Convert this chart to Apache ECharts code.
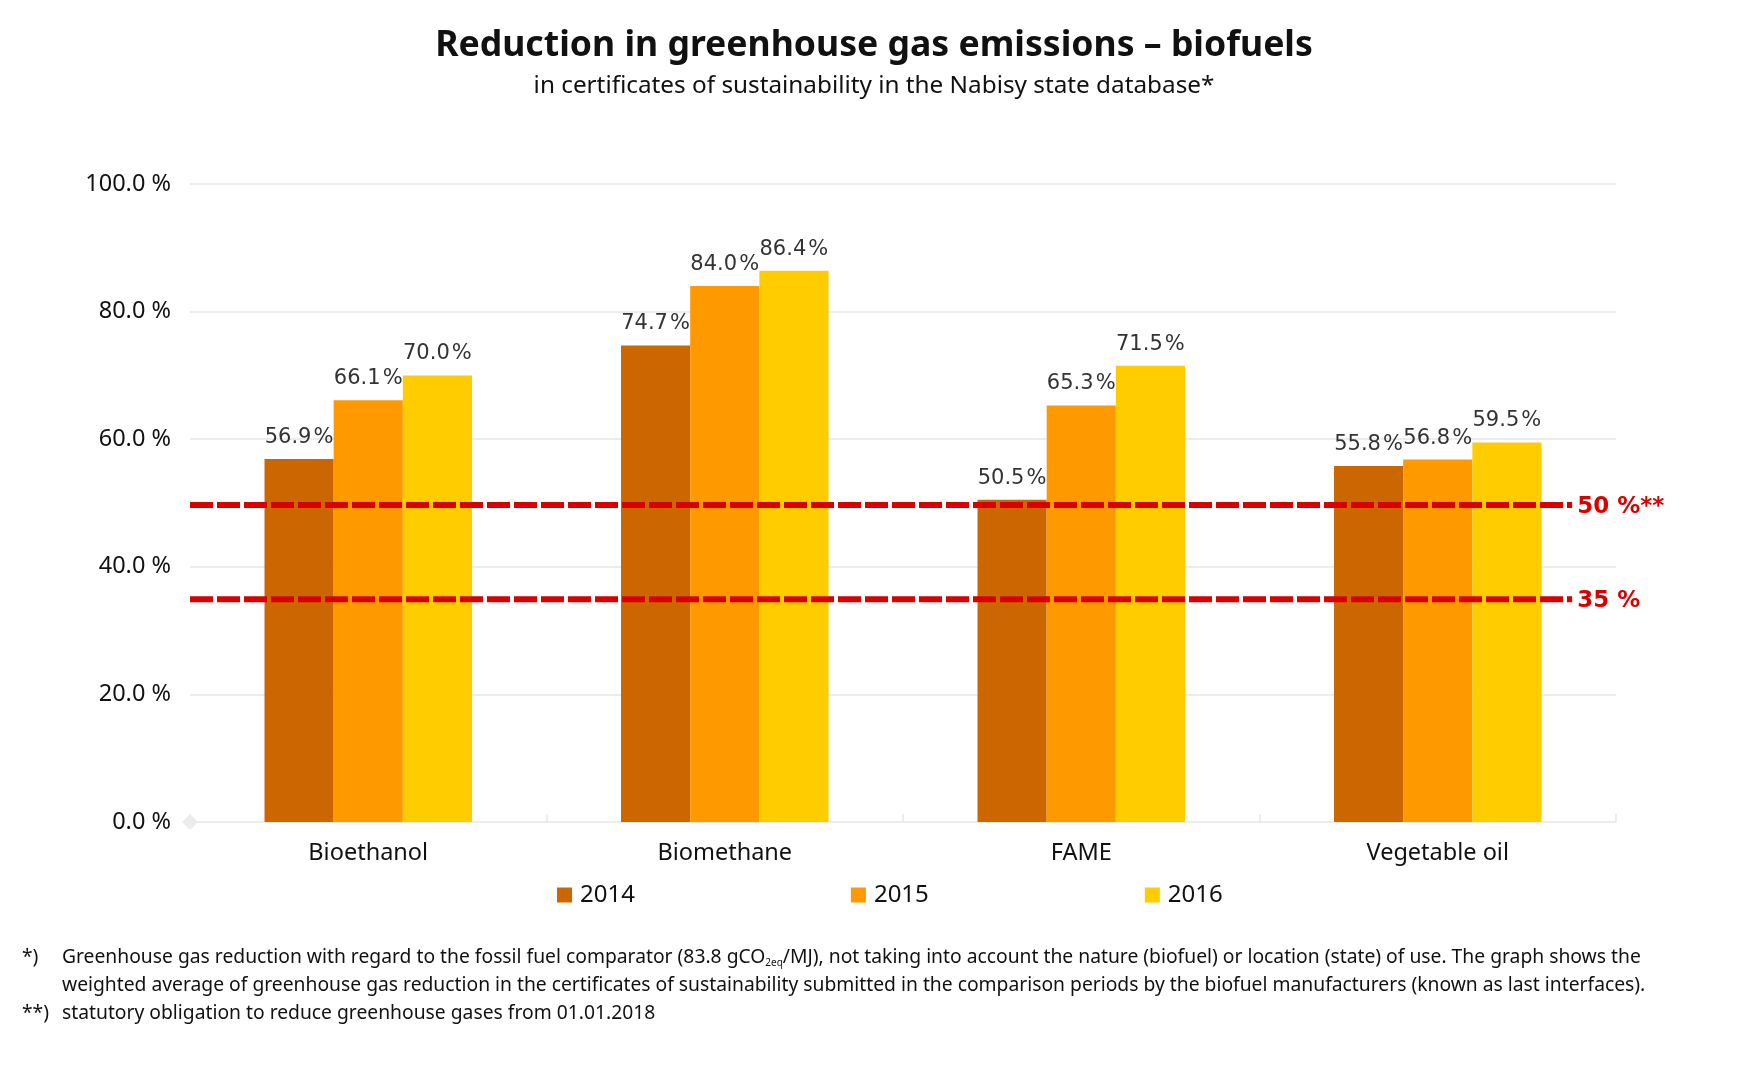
<!DOCTYPE html>
<html>
<head>
<meta charset="utf-8">
<title>Reduction in greenhouse gas emissions</title>
<script src="https://cdn.jsdelivr.net/npm/echarts@6/dist/echarts.min.js"></script>
<style>
  html, body { margin: 0; padding: 0; background: #fff; }
  #chart { width: 1748px; height: 1080px; }
</style>
</head>
<body>
<div id="chart"></div>
<script>
var categories = ['Bioethanol', 'Biomethane', 'FAME', 'Vegetable oil'];
var years = ['2014', '2015', '2016'];
var values2014 = [56.9, 74.7, 50.5, 55.8];
var values2015 = [66.1, 84.0, 65.3, 56.8];
var values2016 = [70.0, 86.4, 71.5, 59.5];
var barColors = ['#cc6600', '#ff9900', '#ffcc00'];

// threshold lines, x runs on the hidden 0..4 axis
var limit50 = [[0, 49.7], [3.877, 49.7]];
var limit35 = [[0, 34.9], [3.877, 34.9]];
var limitLabels = ['50 %**', '35 %'];

var titleText = 'Reduction in greenhouse gas emissions \u2013 biofuels';
var subtitleText = 'in certificates of sustainability in the Nabisy state database*';
var noteMarks = ['*)', '**)'];
var noteLines = [
  'Greenhouse gas reduction with regard to the fossil fuel comparator (83.8 gCO{sub|2eq}/MJ), not taking into account the nature (biofuel) or location (state) of use. The graph shows the',
  'weighted average of greenhouse gas reduction in the certificates of sustainability submitted in the comparison periods by the biofuel manufacturers (known as last interfaces).',
  'statutory obligation to reduce greenhouse gases from 01.01.2018'
];

var textFont = '"Noto Sans", sans-serif';
var gridColor = '#ececec';
var red = '#d90000';

function barSeries(name, data, color) {
  return {
    name: name,
    type: 'bar',
    data: data,
    barWidth: '19.4%',
    barGap: 0,
    itemStyle: { color: color },
    label: {
      show: true,
      position: 'top',
      distance: 11,
      color: '#333333',
      fontFamily: '"DejaVu Sans"',
      fontSize: 21,
      formatter: function (p) { return p.value.toFixed(1) + '\u200a%'; }
    }
  };
}

function limitSeries(data, text) {
  return {
    type: 'line',
    xAxisIndex: 1,
    data: data,
    symbol: 'none',
    silent: true,
    z: 5,
    lineStyle: { color: red, width: 6, type: [23, 4] },
    endLabel: {
      show: true,
      distance: 5,
      offset: [0, 2],
      formatter: text,
      color: red,
      fontFamily: '"DejaVu Sans"',
      fontWeight: 'bold',
      fontSize: 23
    }
  };
}

function noteText(x, y, text) {
  return {
    type: 'text',
    left: x,
    top: y,
    style: {
      text: text,
      fill: '#111111',
      font: '19.3px ' + textFont,
      rich: {
        sub: { fontSize: 10, fontFamily: textFont, fill: '#111111', padding: [12, 0, 0, 0] }
      }
    }
  };
}

var myChart = echarts.init(document.getElementById('chart'));
myChart.setOption({
  backgroundColor: '#ffffff',
  animation: false,
  title: {
    text: titleText,
    subtext: subtitleText,
    left: 869,
    top: 23,
    textAlign: 'center',
    itemGap: 10,
    textStyle: { fontFamily: textFont, fontWeight: 'bold', fontSize: 35.6, color: '#111111' },
    subtextStyle: { fontFamily: textFont, fontSize: 24.3, color: '#111111' }
  },
  grid: { left: 190, right: 132, top: 184, bottom: 258 },
  legend: {
    data: years,
    left: 552,
    top: 878,
    icon: 'rect',
    itemWidth: 15,
    itemHeight: 15,
    itemGap: 216,
    textStyle: { fontFamily: textFont, fontSize: 24, color: '#111111', padding: [0, 0, 0, 3] }
  },
  xAxis: [{
    type: 'category',
    data: categories,
    axisLine: {
      lineStyle: { color: gridColor, width: 2 },
      symbol: ['diamond', 'none'],
      symbolSize: [16, 16]
    },
    axisTick: { length: 8, lineStyle: { color: gridColor, width: 2 } },
    axisLabel: { margin: 19, fontFamily: textFont, fontSize: 23.5, color: '#111111' }
  }, {
    // second axis: inner half of the ticks, and x scale for the limit lines
    type: 'value',
    position: 'bottom',
    min: 0,
    max: 4,
    interval: 1,
    axisLine: { show: false },
    axisTick: { show: true, inside: true, length: 8, lineStyle: { color: gridColor, width: 2 } },
    axisLabel: { show: false },
    splitLine: { show: false }
  }],
  yAxis: {
    type: 'value',
    min: 0,
    max: 100,
    interval: 20,
    axisLine: { show: false },
    axisTick: { show: false },
    axisLabel: {
      margin: 19,
      fontFamily: textFont,
      fontSize: 23.5,
      color: '#111111',
      formatter: function (v) { return v.toFixed(1) + ' %'; }
    },
    splitLine: { lineStyle: { color: gridColor, width: 2 } }
  },
  series: [
    barSeries(years[0], values2014, barColors[0]),
    barSeries(years[1], values2015, barColors[1]),
    barSeries(years[2], values2016, barColors[2]),
    limitSeries(limit50, limitLabels[0]),
    limitSeries(limit35, limitLabels[1])
  ],
  graphic: [
    noteText(22, 948, noteMarks[0]),
    noteText(62, 948, noteLines[0]),
    noteText(62, 976, noteLines[1]),
    noteText(22, 1004, noteMarks[1]),
    noteText(62, 1004, noteLines[2])
  ]
});
</script>
</body>
</html>
